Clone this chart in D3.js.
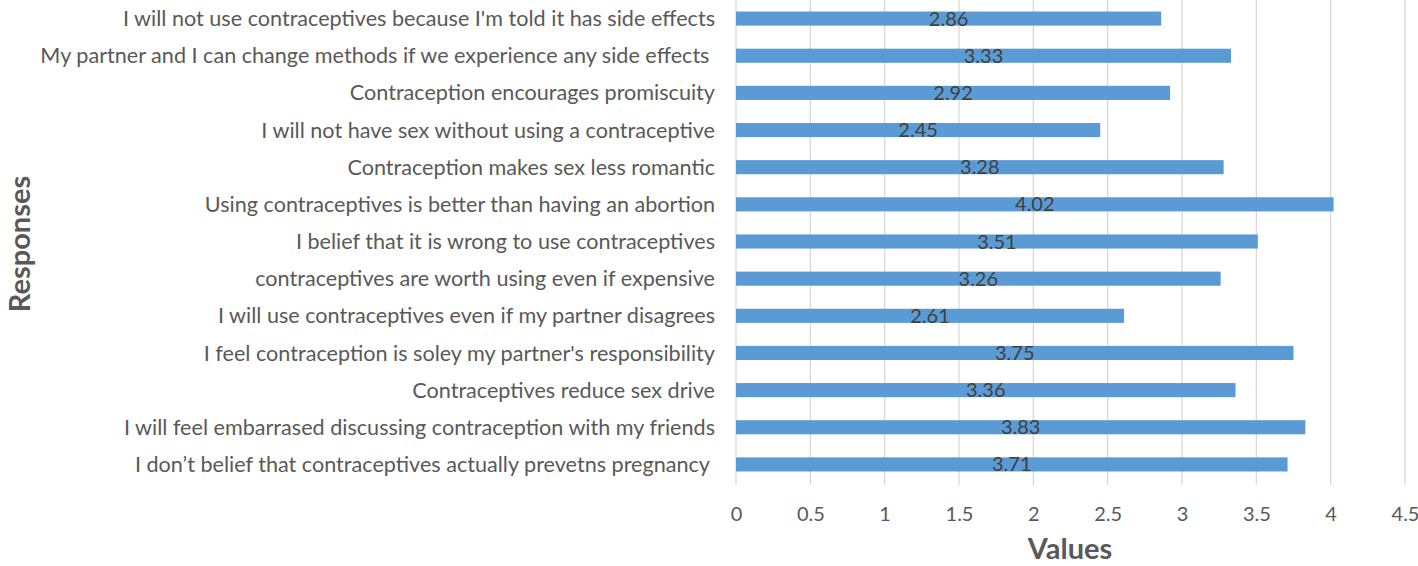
<!DOCTYPE html>
<html><head><meta charset="utf-8">
<script src="https://cdn.jsdelivr.net/npm/d3@7"></script>
<style>body{margin:0;background:#fff}svg{display:block}</style>
</head><body>
<svg id="c" width="1418" height="566"></svg>
<script>
const categories = [
  "I will not use contraceptives because I'm told it has side effects",
  "My partner and I can change methods if we experience any side effects ",
  "Contraception encourages promiscuity",
  "I will not have sex without using a contraceptive",
  "Contraception makes sex less romantic",
  "Using contraceptives is better than having an abortion",
  "I belief that it is wrong to use contraceptives",
  "contraceptives are worth using even if expensive",
  "I will use contraceptives even if my partner disagrees",
  "I feel contraception is soley my partner's responsibility",
  "Contraceptives reduce sex drive",
  "I will feel embarrased discussing contraception with my friends",
  "I don\u2019t belief that contraceptives actually prevetns pregnancy "
];
const values = [2.86, 3.33, 2.92, 2.45, 3.28, 4.02, 3.51, 3.26, 2.61, 3.75, 3.36, 3.83, 3.71];
const xTicks = [0, 0.5, 1, 1.5, 2, 2.5, 3, 3.5, 4, 4.5];

const svg = d3.select("#c");
const font = "Lato, 'Open Sans', sans-serif";
const x = d3.scaleLinear().domain([0, 4.5]).range([736, 1405]);
const y = d3.scaleBand().domain(categories).range([0, 483]).paddingInner(0.62).paddingOuter(0.31);

// gridlines
svg.append("g").selectAll("line").data(xTicks).join("line")
  .attr("x1", d => x(d)).attr("x2", d => x(d))
  .attr("y1", 0).attr("y2", 485)
  .attr("stroke", "#d9d9d9").attr("stroke-width", 1.3);

// bars
svg.append("g").selectAll("rect").data(values).join("rect")
  .attr("x", x(0)).attr("y", (d, i) => y(categories[i]))
  .attr("width", d => x(d) - x(0)).attr("height", y.bandwidth())
  .attr("fill", "#5b9bd5");

// value labels
svg.append("g").selectAll("text").data(values).join("text")
  .attr("x", d => (x(0) + x(d)) / 2)
  .attr("y", (d, i) => y(categories[i]) + y.bandwidth() / 2 + 2)
  .attr("dominant-baseline", "middle")
  .attr("text-anchor", "middle")
  .attr("font-family", font).attr("font-size", 20).attr("fill", "#404040")
  .text(d => d.toFixed(2));

// category labels
const yAxis = d3.axisLeft(y).tickSize(0).tickPadding(0);
const ya = svg.append("g").attr("transform", "translate(715,0)").call(yAxis);
ya.select(".domain").remove();
ya.selectAll("text").attr("font-family", font).attr("font-size", 21.6).attr("fill", "#595959").attr("dy", "0.35em").attr("x", 0).style("white-space", "pre");

// x axis labels
const xAxis = d3.axisBottom(x).tickValues(xTicks).tickSize(0).tickPadding(0).tickFormat(d3.format(""));
const xa = svg.append("g").attr("transform", "translate(0,521)").call(xAxis);
xa.select(".domain").remove();
xa.selectAll("text").attr("font-family", font).attr("font-size", 20).attr("fill", "#595959").attr("dy", "0").attr("y", 0);

// axis titles
svg.append("text").attr("x", 1070).attr("y", 559).attr("text-anchor", "middle")
  .attr("font-family", font).attr("font-weight", "bold").attr("font-size", 29).attr("fill", "#595959").text("Values");
svg.append("text").attr("transform", "translate(30,244) rotate(-90)").attr("text-anchor", "middle")
  .attr("font-family", font).attr("font-weight", "bold").attr("font-size", 29).attr("fill", "#595959").text("Responses");
</script>
</body></html>
